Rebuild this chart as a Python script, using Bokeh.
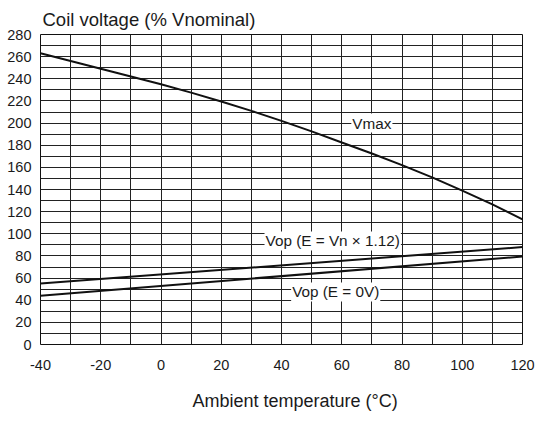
from bokeh.plotting import figure
from bokeh.models import Range1d, SingleIntervalTicker, Label, Title
from bokeh.embed import file_html
from bokeh.resources import INLINE

# Data
temps = [-40, -30, -20, -10, 0, 10, 20, 30, 40, 50, 60, 70, 80, 90, 100, 110, 120]
vmax = [263, 256, 249, 242, 235, 227.5, 219.5, 211, 202, 192.5, 182.5, 172.5, 162, 151, 139, 126.5, 113]
vop_temps = [-40, 120]
vop_112 = [55, 88]
vop_0 = [44, 79.5]

x_ticks = [-40, -20, 0, 20, 40, 60, 80, 100, 120]
x_tick_labels = ["-40", "-20", "0", "20", "40", "60", "80", "100", "120"]

labels_text = ["Vmax", "Vop (E = Vn × 1.12)", "Vop (E = 0V)"]
labels_x = [70, 57, 58]
labels_y = [200, 93.5, 47.5]

title_text = "Coil voltage (% Vnominal)"
xlabel_text = "Ambient temperature (°C)"

FONT = "Liberation Sans"
INK = "#1a1a1a"

p = figure(width=535, height=428, x_range=Range1d(-40, 120), y_range=Range1d(0, 280),
           output_backend="svg", toolbar_location=None,
           min_border_left=40, min_border_right=13, min_border_top=34, min_border_bottom=84)

p.title.text = title_text
p.title.align = "left"
p.title.offset = 2
p.title.standoff = 10
p.title.text_font = FONT
p.title.text_font_size = "18.5px"
p.title.text_font_style = "normal"
p.title.text_color = INK

for ax, standoff in ((p.xaxis[0], 9), (p.yaxis[0], 3)):
    ax.ticker = SingleIntervalTicker(interval=20, num_minor_ticks=2)
    ax.major_tick_line_color = None
    ax.minor_tick_line_color = None
    ax.axis_line_color = None
    ax.major_label_standoff = standoff
    ax.major_label_text_font = FONT
    ax.major_label_text_font_size = "14.5px"
    ax.major_label_text_color = INK

p.xaxis[0].major_label_overrides = dict(zip(x_ticks, x_tick_labels))

for g in (p.xgrid[0], p.ygrid[0]):
    g.grid_line_color = "#222222"
    g.grid_line_width = 1
    g.grid_line_alpha = 1
    g.minor_grid_line_color = "#222222"
    g.minor_grid_line_width = 1

p.outline_line_color = "#111111"
p.outline_line_width = 1

p.line(temps, vmax, line_color="#111111", line_width=2)
p.line(vop_temps, vop_112, line_color="#111111", line_width=2)
p.line(vop_temps, vop_0, line_color="#111111", line_width=2)

for t, x, y in zip(labels_text, labels_x, labels_y):
    p.add_layout(Label(x=x, y=y, text=t, text_align="center", text_baseline="middle",
                       text_font=FONT, text_font_size="15.3px", text_color=INK,
                       background_fill_color="white", padding=1))

# x-axis title, below the tick labels
xlab = Title(text=xlabel_text, align="left", offset=152, standoff=32,
             text_font=FONT, text_font_size="18px", text_font_style="normal",
             text_color=INK)
p.add_layout(xlab, "below")

open("out.html", "w").write(file_html(p, INLINE))
